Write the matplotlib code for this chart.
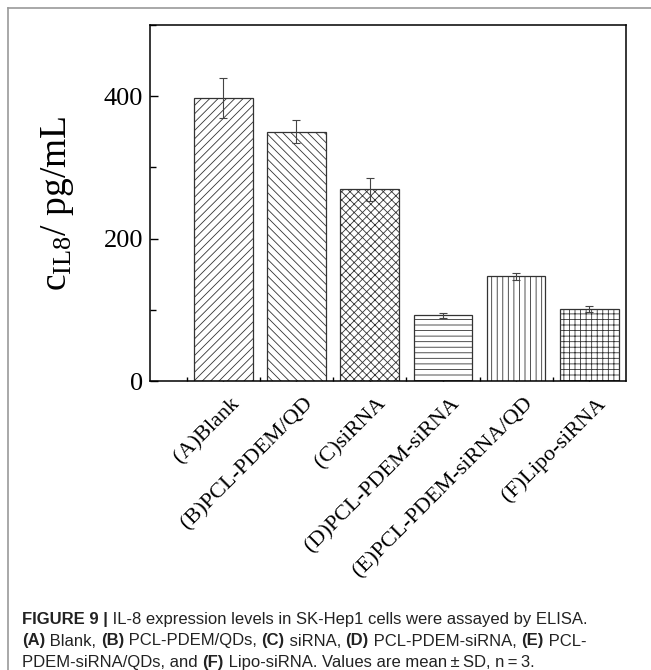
import matplotlib
matplotlib.use('Agg')
import matplotlib.pyplot as plt
from matplotlib.lines import Line2D
from matplotlib.ticker import MultipleLocator, FixedLocator
from matplotlib.transforms import ScaledTranslation

# values
GROUPS = ['(A)Blank', '(B)PCL-PDEM/QD', '(C)siRNA', '(D)PCL-PDEM-siRNA',
          '(E)PCL-PDEM-siRNA/QD', '(F)Lipo-siRNA']
IL8 = [398, 350, 269, 92, 147, 101]
SD = [28, 16, 16, 3, 5, 4.5]
HATCHES = ['////', '\\\\\\\\', 'xxxx', '---', '|||', '+++']

CAPTION = [
    [('FIGURE 9 |', 'bold'), (' IL-8 expression levels in SK-Hep1 cells were assayed by ELISA.', 'normal')],
    [('(A)', 'bold'), (' Blank, ', 'normal'), ('(B)', 'bold'), (' PCL-PDEM/QDs, ', 'normal'),
     ('(C)', 'bold'), (' siRNA, ', 'normal'), ('(D)', 'bold'), (' PCL-PDEM-siRNA, ', 'normal'),
     ('(E)', 'bold'), (' PCL-', 'normal')],
    [('PDEM-siRNA/QDs, and ', 'normal'), ('(F)', 'bold'),
     (' Lipo-siRNA. Values are mean\u2009\u00b1\u2009SD, n\u2009=\u20093.', 'normal')],
]

SERIF = 'Liberation Serif'
CAP_FONT = ['Liberation Sans', 'DejaVu Sans']

plt.rcParams['hatch.linewidth'] = 0.6
plt.rcParams['mathtext.fontset'] = 'custom'
plt.rcParams['mathtext.rm'] = SERIF
plt.rcParams['mathtext.it'] = SERIF + ':italic'


def draw_caption(fig, lines, x0, y0, dy, size):
    """draw rich text lines with bold runs, x0/y0 in figure pixels from top-left"""
    r = fig.canvas.get_renderer()
    W, H = fig.bbox.width, fig.bbox.height

    def width(s, weight):
        t = fig.text(0, 0, 'x' + s + 'x', family=CAP_FONT, fontsize=size, weight=weight)
        w = t.get_window_extent(r).width
        t.remove()
        t = fig.text(0, 0, 'xx', family=CAP_FONT, fontsize=size, weight=weight)
        w -= t.get_window_extent(r).width
        t.remove()
        return w

    for i, runs in enumerate(lines):
        x = x0
        y = y0 + i * dy
        for s, weight in runs:
            fig.text(x / W, 1 - y / H, s, family=CAP_FONT, fontsize=size,
                     weight=weight, va='baseline', ha='left', color='#222222')
            x += width(s, weight)


def main():
    fig = plt.figure(figsize=(6.51, 6.70), dpi=100)
    W, H = 651, 670
    ax = fig.add_axes([150 / W, 1 - 381 / H, 476 / W, 356 / H])

    pos = list(range(1, len(GROUPS) + 1))
    for p, v, e, h in zip(pos, IL8, SD, HATCHES):
        ax.bar(p, v, width=0.8, color='white', edgecolor='#333333',
               linewidth=0.9, hatch=h, zorder=2)
        ax.errorbar(p, v, yerr=e, color='#444444', elinewidth=0.8,
                    capsize=3, capthick=0.8, zorder=3)

    ax.set_xlim(0, 6.5)
    ax.set_ylim(0, 500)
    ax.yaxis.set_major_locator(FixedLocator([0, 200, 400]))
    ax.yaxis.set_minor_locator(MultipleLocator(100))
    ax.set_xticks(pos)
    ax.set_xticklabels([])
    ax.xaxis.set_minor_locator(FixedLocator([p - 0.5 for p in pos]))

    # rotated category labels, anchored just right of and below each tick
    shift = ScaledTranslation(7 / 100, -13 / 100, fig.dpi_scale_trans)
    for p, g in zip(pos, GROUPS):
        ax.text(p, 0, g, transform=ax.get_xaxis_transform() + shift,
                rotation=45, ha='right', va='top', rotation_mode='anchor',
                family=SERIF, fontsize=16)

    for lab in ax.get_yticklabels():
        lab.set_family(SERIF)
        lab.set_fontsize(19)
    ax.tick_params(axis='both', which='major', direction='in', length=6,
                   width=1.0, pad=5)
    ax.tick_params(axis='both', which='minor', direction='in', length=4, width=1.0)
    ax.tick_params(axis='x', which='minor', length=3)
    for sp in ax.spines.values():
        sp.set_linewidth(1.1)

    ax.set_ylabel(r'c$_{\mathrm{IL8}}$/ pg/mL', family=SERIF, fontsize=27, labelpad=20)

    # figure frame lines (top and left)
    fig.add_artist(Line2D([8 / W, 1], [1 - 7.5 / H] * 2, color='#9a9a9a', lw=1.2,
                          transform=fig.transFigure))
    fig.add_artist(Line2D([8 / W] * 2, [1 - 7.5 / H, 0], color='#9a9a9a', lw=1.2,
                          transform=fig.transFigure))

    draw_caption(fig, CAPTION, 22, 624, 21.5, 12)

    fig.savefig('out.png', dpi=100)


if __name__ == '__main__':
    main()
